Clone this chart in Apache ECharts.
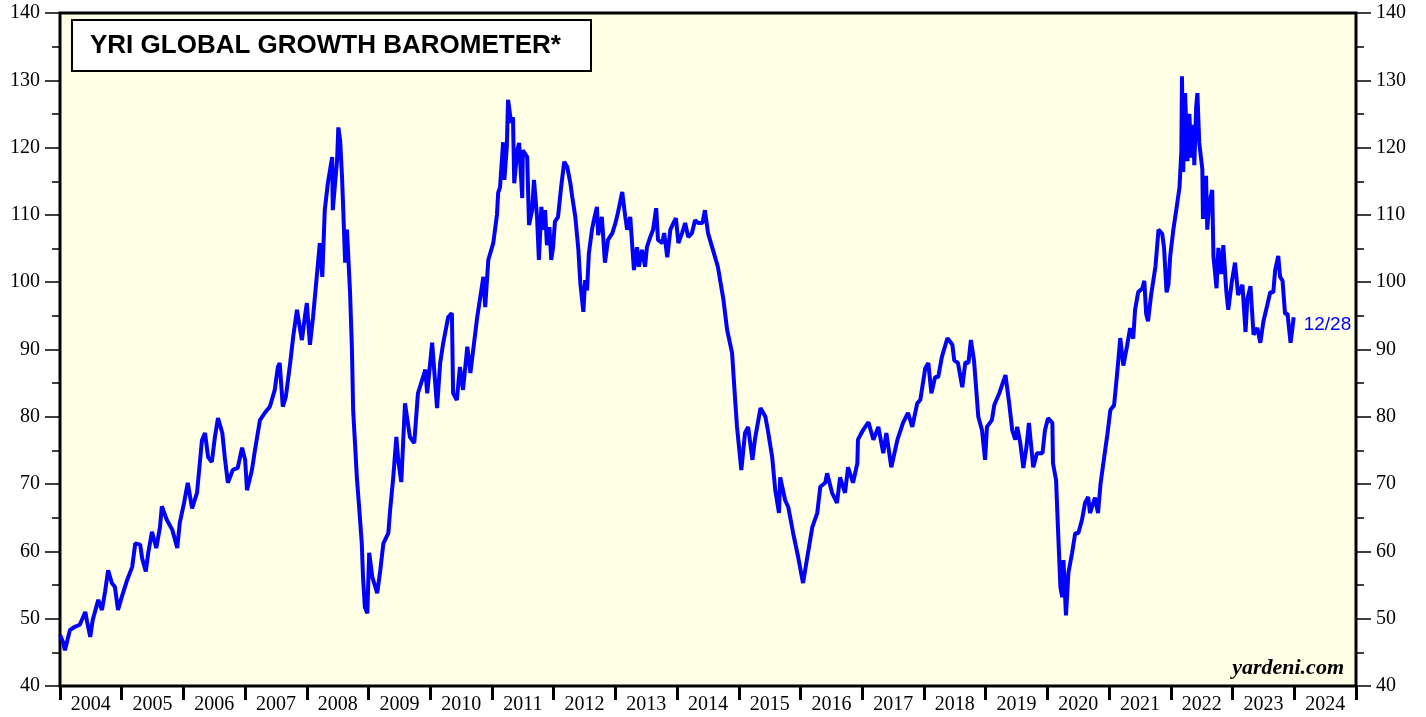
<!DOCTYPE html>
<html>
<head>
<meta charset="utf-8">
<script src="https://cdn.jsdelivr.net/npm/echarts@6/dist/echarts.min.js"></script>
<style>
  html, body { margin: 0; padding: 0; background: #fff; }
  #chart { width: 1426px; height: 717px; }
</style>
</head>
<body>
<div id="chart"></div>
<script>
// weekly readings, [fractional year, index]
var seg2004_2008 = [
  [2004.00,47.6],[2004.05,46.5],[2004.08,45.3],[2004.16,48.3],[2004.24,48.8],[2004.32,49.1],[2004.41,51.0],[2004.44,49.5],
  [2004.49,47.3],[2004.53,49.8],[2004.62,52.8],[2004.68,51.3],[2004.73,54.0],[2004.78,57.2],[2004.84,55.3],[2004.89,54.7],
  [2004.94,51.3],[2005.00,53.2],[2005.09,55.8],[2005.17,57.7],[2005.22,61.2],[2005.30,61.0],[2005.33,59.0],[2005.39,57.0],
  [2005.43,59.8],[2005.49,62.9],[2005.56,60.5],[2005.62,63.6],[2005.65,66.7],[2005.73,64.7],[2005.82,63.2],[2005.90,60.5],
  [2005.94,64.2],[2006.01,67.2],[2006.07,70.2],[2006.14,66.4],[2006.22,68.7],[2006.30,76.5],[2006.35,77.6],[2006.40,74.0],
  [2006.46,73.3],[2006.51,77.0],[2006.56,79.8],[2006.63,77.6],[2006.67,74.0],[2006.72,70.2],[2006.80,72.1],[2006.88,72.4],
  [2006.95,75.4],[2007.00,73.6],[2007.03,69.1],[2007.11,72.1],[2007.16,75.1],[2007.24,79.5],[2007.32,80.6],[2007.40,81.5],
  [2007.48,84.0],[2007.53,87.4],[2007.56,88.0],[2007.61,81.5],[2007.66,83.0],[2007.73,88.0],[2007.78,92.0],[2007.84,95.9],
  [2007.89,93.0],[2007.92,91.4],[2007.97,95.0],[2008.00,96.9],[2008.05,90.7],[2008.10,94.8],[2008.17,101.8],[2008.21,105.8],
  [2008.25,100.8],[2008.29,110.7],[2008.34,114.7],[2008.41,118.6],[2008.42,110.7],[2008.49,118.2],[2008.51,123.0],[2008.54,121.0],
  [2008.57,115.6],[2008.59,110.7],[2008.62,102.9],[2008.65,107.8],[2008.70,98.4],[2008.73,90.2],[2008.75,81.0],[2008.78,76.1],
  [2008.81,71.0],[2008.85,66.2],[2008.89,61.2],[2008.91,56.2],[2008.94,51.7],[2008.98,50.8]
];
var seg2009_2013 = [
  [2009.01,59.8],[2009.06,56.2],[2009.14,53.8],[2009.19,57.2],[2009.24,61.2],[2009.32,62.7],[2009.35,66.2],[2009.40,71.0],
  [2009.45,77.0],[2009.48,73.6],[2009.53,70.3],[2009.59,82.0],[2009.67,77.0],[2009.74,76.1],[2009.80,83.5],[2009.92,87.0],
  [2009.95,83.5],[2010.03,91.0],[2010.11,81.3],[2010.16,88.0],[2010.21,91.0],[2010.29,94.8],[2010.35,95.4],[2010.37,83.5],
  [2010.43,82.5],[2010.48,87.4],[2010.53,84.0],[2010.60,90.4],[2010.65,86.5],[2010.76,94.8],[2010.86,100.8],[2010.89,96.3],
  [2010.94,103.3],[2011.02,105.8],[2011.08,110.0],[2011.10,113.3],[2011.13,114.1],[2011.18,120.8],[2011.20,115.2],[2011.24,120.1],
  [2011.26,127.1],[2011.31,123.7],[2011.34,124.5],[2011.36,114.7],[2011.41,119.6],[2011.44,120.7],[2011.49,112.5],[2011.50,119.6],
  [2011.57,118.6],[2011.60,108.5],[2011.65,110.7],[2011.68,115.2],[2011.73,109.7],[2011.76,103.3],[2011.80,111.2],[2011.83,107.8],
  [2011.86,110.7],[2011.89,105.5],[2011.93,108.2],[2011.96,103.3],[2011.99,105.2],[2012.02,109.0],[2012.07,109.7],[2012.12,114.1],
  [2012.17,117.9],[2012.22,117.1],[2012.27,114.7],[2012.30,112.7],[2012.35,109.7],[2012.40,104.8],[2012.43,100.0],[2012.48,95.6],
  [2012.51,100.3],[2012.54,98.8],[2012.57,104.3],[2012.62,107.8],[2012.65,109.2],[2012.70,111.2],[2012.72,107.0],[2012.78,109.7],
  [2012.83,102.9],[2012.88,106.3],[2012.95,107.3],[2013.00,108.8],[2013.04,110.3],[2013.11,113.4],[2013.16,109.7],[2013.19,107.8],
  [2013.24,109.7],[2013.30,101.8],[2013.35,105.2],[2013.38,102.3],[2013.43,104.8],[2013.48,102.3],[2013.51,105.2],[2013.56,106.6],
  [2013.61,107.8],[2013.66,111.0],[2013.69,106.3],[2013.76,105.8],[2013.79,107.3],[2013.84,103.7],[2013.89,107.8],[2013.94,108.8],
  [2013.98,109.5]
];
var seg2014_2018 = [
  [2014.02,105.8],[2014.08,107.3],[2014.13,108.8],[2014.18,106.7],[2014.24,107.3],[2014.29,109.2],[2014.34,108.8],[2014.41,108.8],
  [2014.45,110.7],[2014.50,107.3],[2014.58,104.8],[2014.66,102.3],[2014.75,97.4],[2014.81,92.9],[2014.89,89.5],[2014.94,82.5],
  [2014.97,78.5],[2015.04,72.1],[2015.10,77.6],[2015.15,78.5],[2015.22,73.6],[2015.26,76.6],[2015.35,81.3],[2015.43,80.0],
  [2015.47,78.0],[2015.54,74.0],[2015.59,69.1],[2015.65,65.7],[2015.67,71.0],[2015.75,67.6],[2015.80,66.6],[2015.88,62.7],
  [2015.96,59.2],[2016.04,55.3],[2016.11,59.2],[2016.19,63.6],[2016.27,65.7],[2016.32,69.6],[2016.40,70.2],[2016.43,71.6],
  [2016.51,68.7],[2016.59,67.2],[2016.64,71.0],[2016.72,68.7],[2016.77,72.5],[2016.85,70.2],[2016.92,73.1],[2016.93,76.6],
  [2017.01,78.0],[2017.10,79.2],[2017.18,76.6],[2017.26,78.5],[2017.34,74.6],[2017.39,77.6],[2017.47,72.5],[2017.57,76.6],
  [2017.66,79.1],[2017.74,80.6],[2017.81,78.5],[2017.89,82.0],[2017.94,82.5],[2018.02,87.2],[2018.07,88.0],[2018.12,83.5],
  [2018.18,85.9],[2018.23,85.9],[2018.29,88.9],[2018.38,91.7],[2018.46,90.7],[2018.49,88.4],[2018.55,88.0],[2018.62,84.4],
  [2018.67,88.1],[2018.72,88.0],[2018.76,91.4],[2018.81,88.4],[2018.88,80.0],[2018.94,78.0],[2018.99,73.6]
];
var seg2019_2023 = [
  [2019.02,78.5],[2019.10,79.5],[2019.14,81.8],[2019.22,83.5],[2019.32,86.2],[2019.38,82.0],[2019.43,78.0],[2019.48,76.6],
  [2019.51,78.5],[2019.56,76.1],[2019.61,72.4],[2019.66,75.5],[2019.70,79.1],[2019.77,72.5],[2019.83,74.6],[2019.92,74.6],
  [2019.96,78.0],[2020.01,79.8],[2020.08,79.1],[2020.09,73.1],[2020.14,70.6],[2020.17,63.6],[2020.21,54.7],[2020.24,53.2],
  [2020.26,58.7],[2020.30,50.5],[2020.34,56.8],[2020.40,59.8],[2020.45,62.7],[2020.50,62.7],[2020.56,64.7],[2020.61,67.2],
  [2020.66,68.1],[2020.69,65.7],[2020.77,68.0],[2020.82,65.7],[2020.86,70.0],[2020.90,72.7],[2020.97,77.3],[2021.02,81.0],
  [2021.08,81.7],[2021.13,86.5],[2021.18,91.7],[2021.23,87.6],[2021.29,90.5],[2021.34,93.2],[2021.39,91.6],[2021.42,95.9],
  [2021.47,98.5],[2021.54,99.1],[2021.57,100.2],[2021.60,95.3],[2021.63,94.2],[2021.68,98.1],[2021.75,102.3],[2021.80,107.8],
  [2021.86,107.2],[2021.89,105.1],[2021.93,98.5],[2021.96,99.6],[2021.99,103.9],[2022.04,107.8],[2022.10,111.5],[2022.14,114.1],
  [2022.17,119.5],[2022.18,130.6],[2022.20,116.4],[2022.23,128.1],[2022.27,118.0],[2022.30,125.0],[2022.33,118.5],[2022.36,123.4],
  [2022.38,117.4],[2022.41,126.0],[2022.43,128.1],[2022.46,120.7],[2022.51,116.8],[2022.52,109.4],[2022.57,115.8],[2022.59,107.8],
  [2022.62,111.5],[2022.67,113.7],[2022.69,103.9],[2022.74,99.1],[2022.77,105.1],[2022.82,101.2],[2022.85,105.5],[2022.90,98.5],
  [2022.93,95.9],[2022.99,100.2],[2023.04,102.9],[2023.09,98.1],[2023.16,99.6],[2023.21,92.6],[2023.24,97.5],[2023.29,99.4],
  [2023.34,92.2],[2023.40,93.2],[2023.45,91.0],[2023.50,94.2],[2023.56,96.5],[2023.61,98.5],[2023.66,98.5],[2023.69,101.8],
  [2023.74,103.9],[2023.77,100.8],[2023.81,100.2],[2023.85,95.3],[2023.89,95.3],[2023.94,91.0],[2023.97,93.2],[2023.99,94.8]
];
var yearLabels = ['2004','2005','2006','2007','2008','2009','2010','2011','2012','2013','2014',
  '2015','2016','2017','2018','2019','2020','2021','2022','2023','2024'];
var lastDate = '12/28';

var chart = echarts.init(document.getElementById('chart'));

var serif = "'Liberation Serif', 'Times New Roman', serif";
var yAxisBase = {
  type: 'value',
  min: 40,
  max: 140,
  interval: 10,
  axisLine: { show: false },
  axisTick: { show: true, length: 15, lineStyle: { color: '#000', width: 1.5 } },
  minorTick: { show: true, splitNumber: 2, length: 8, lineStyle: { color: '#000', width: 1.5 } },
  splitLine: { show: false },
  axisLabel: { color: '#000', fontFamily: serif, fontSize: 20, margin: 20 }
};

var option = {
  animation: false,
  backgroundColor: '#fff',
  title: {
    text: 'YRI GLOBAL GROWTH BAROMETER*',
    left: 72,
    top: 20,
    padding: [13, 30, 12, 18],
    backgroundColor: '#fff',
    borderColor: '#000',
    borderWidth: 2,
    textStyle: { fontFamily: "'Liberation Sans', Arial, sans-serif", fontWeight: 'bold', fontSize: 26, color: '#000' }
  },
  grid: {
    left: 60, right: 70, top: 13, bottom: 31,
    show: true,
    backgroundColor: '#FFFFE6',
    borderColor: '#000',
    borderWidth: 3
  },
  xAxis: [
    {
      type: 'value',
      min: 2004,
      max: 2025,
      show: false
    },
    {
      type: 'category',
      data: yearLabels,
      boundaryGap: true,
      position: 'bottom',
      axisLine: { show: false },
      axisTick: { show: true, interval: 0, length: 14, lineStyle: { color: '#000', width: 3 } },
      axisLabel: { interval: 0, color: '#000', fontFamily: serif, fontSize: 20, margin: 9 }
    }
  ],
  yAxis: [
    Object.assign({}, yAxisBase, { position: 'left' }),
    Object.assign({}, yAxisBase, { position: 'right' })
  ],
  series: [
    {
      type: 'line',
      xAxisIndex: 0,
      yAxisIndex: 0,
      data: seg2004_2008.concat(seg2009_2013, seg2014_2018, seg2019_2023),
      showSymbol: false,
      lineStyle: { color: '#0000FF', width: 4 },
      endLabel: {
        show: true,
        formatter: lastDate,
        color: '#0000FF',
        fontFamily: "'Liberation Sans', Arial, sans-serif",
        fontSize: 19,
        offset: [2, 8]
      }
    }
  ],
  graphic: [
    {
      type: 'text',
      right: 82,
      bottom: 38,
      style: {
        text: 'yardeni.com',
        fill: '#000',
        font: "italic bold 22px 'Liberation Serif', 'Times New Roman', serif"
      }
    }
  ]
};

chart.setOption(option);
</script>
</body>
</html>
